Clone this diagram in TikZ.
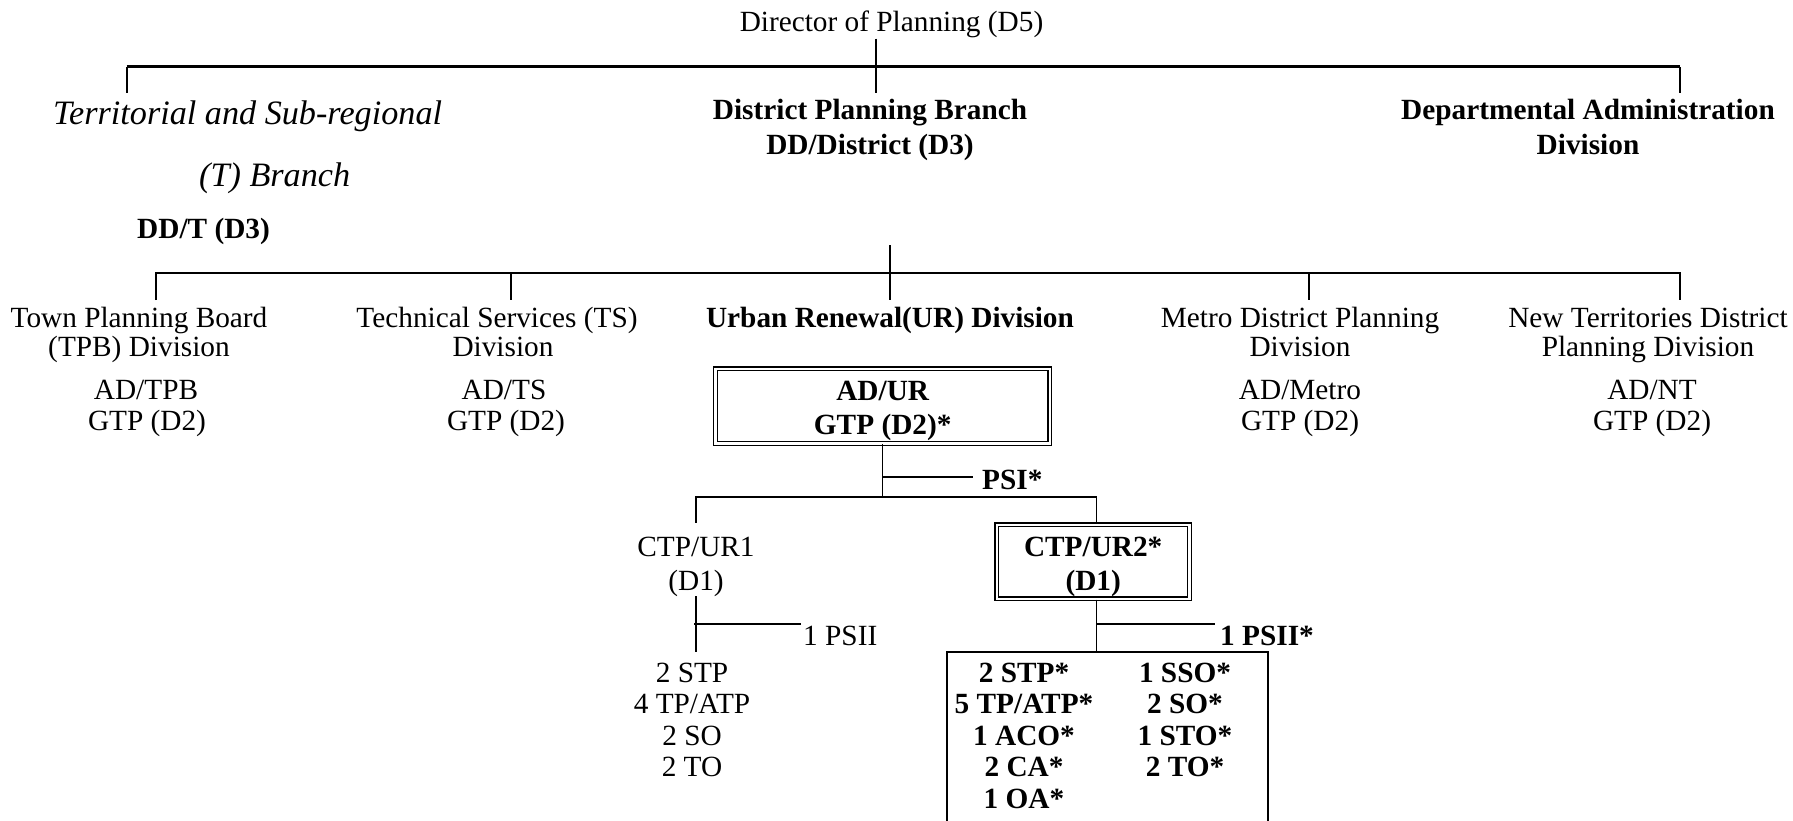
\documentclass[tikz,border=0pt]{standalone}
\usepackage{fontspec}
\setmainfont{Liberation Serif}
\newcommand{\fsN}{\fontsize{29.3}{34}\selectfont}
\newcommand{\fsI}{\fontsize{34.2}{40}\selectfont\itshape}
\tikzset{
  txt/.style={inner sep=0pt, anchor=base, font=\fsN},
  btxt/.style={inner sep=0pt, anchor=base, font=\fsN\bfseries},
  itxt/.style={inner sep=0pt, anchor=base west, font=\fsI},
  conn/.style={line width=1.8pt},
  mainline/.style={line width=2.4pt},
  dbox/.style={draw, double, double distance=2.4pt, line width=1.3pt, inner sep=0pt},
  sbox/.style={draw, line width=1.8pt, inner sep=0pt},
}
\begin{document}
\begin{tikzpicture}[x=1pt,y=-1pt]
\path[fill=white, use as bounding box] (0,0) rectangle (1793,821);

% ---- top level ----
\node[txt] (dir) at (891.5,32) {Director of Planning (D5)};
\coordinate (hT) at (876,66.7);
\coordinate (dL) at (126.7,92.7);
\coordinate (dM) at (876,92.7);
\coordinate (dR) at (1679.7,92.7);
\draw[conn] (dir.south -| hT) -- (dM);
\draw[mainline] (dL |- hT) -- (dR |- hT);
\draw[conn] (dL) -- (dL |- hT);
\draw[conn] (dR) -- (dR |- hT);

\node[itxt] (tsr1) at (53,125) {Territorial and Sub-regional};
\node[itxt] (tsr2) at (199,186) {(T) Branch};
\node[btxt, anchor=base west] (ddt) at (137,238) {DD/T (D3)};

\node[btxt] (dpb1) at (870,120) {District Planning Branch};
\node[btxt] (dpb2) at (870,155) {DD/District (D3)};

\node[btxt] (dad1) at (1588,120) {Departmental Administration};
\node[btxt] (dad2) at (1588,155) {Division};

% ---- second level ----
\coordinate (s0) at (890,245);
\coordinate (sH) at (890,273.3);
\coordinate (a1) at (156,300);
\coordinate (a2) at (511,300);
\coordinate (a3) at (890,300);
\coordinate (a4) at (1309,300);
\coordinate (a5) at (1679.7,300);
\draw[conn] (s0) -- (a3);
\draw[conn] (a1) -- (a1 |- sH) -- (a5 |- sH) -- (a5);
\draw[conn] (a2 |- sH) -- (a2);
\draw[conn] (a4 |- sH) -- (a4);

\node[txt] (tpb1) at (139,327) {Town Planning Board};
\node[txt] (tpb2) at (139,356) {(TPB) Division};
\node[txt] (tpb3) at (146,399) {AD/TPB};
\node[txt] (tpb4) at (147,430) {GTP (D2)};

\node[txt] (ts1) at (497,327) {Technical Services (TS)};
\node[txt] (ts2) at (503,356) {Division};
\node[txt] (ts3) at (504,399) {AD/TS};
\node[txt] (ts4) at (506,430) {GTP (D2)};

\node[btxt] (ur1) at (890,327) {Urban Renewal(UR) Division};

\node[txt] (mt1) at (1300,327) {Metro District Planning};
\node[txt] (mt2) at (1300,356) {Division};
\node[txt] (mt3) at (1300,399) {AD/Metro};
\node[txt] (mt4) at (1300,430) {GTP (D2)};

\node[txt] (nt1) at (1648,327) {New Territories District};
\node[txt] (nt2) at (1648,356) {Planning Division};
\node[txt] (nt3) at (1652,399) {AD/NT};
\node[txt] (nt4) at (1652,430) {GTP (D2)};

% ---- AD/UR ----
\node[dbox, minimum width=334.4pt, minimum height=74.6pt] (adur) at (882.5,406) {};
\node[btxt] (adur1) at (882.7,400) {AD/UR};
\node[btxt] (adur2) at (882.7,434) {GTP (D2)*};

\coordinate (u0) at (882.5,496.7);
\coordinate (psiJ) at (882.5,476.7);
\coordinate (psiE) at (973,476.7);
\node[btxt, anchor=base west] (psi) at (982,489) {PSI*};
\draw[conn] (adur.south) -- (u0);
\draw[conn] (psiJ) -- (psiE);

\node[dbox, minimum width=192.9pt, minimum height=74.2pt] (ctp2) at (1093.2,561.8) {};
\node[btxt] (ctp2a) at (1093.2,556.7) {CTP/UR2*};
\node[btxt] (ctp2b) at (1093.2,590) {(D1)};

\coordinate (c1) at (696,522.7);
\coordinate (c2) at (1096.5,496.7);
\draw[conn] (c1) -- (c1 |- u0) -- (c2) -- (c2 |- ctp2.north);

\node[txt] (ctp1a) at (696,556.7) {CTP/UR1};
\node[txt] (ctp1b) at (696,590) {(D1)};

% ---- lower level ----
\node[sbox, minimum width=321pt, minimum height=200pt] (bot) at (1107.5,751.7) {};

\coordinate (v1b) at (696,651.7);
\coordinate (b1) at (694,624);
\coordinate (b1e) at (801,624);
\draw[conn] (ctp1b.south) -- (v1b);
\draw[conn] (b1) -- (b1e);
\node[txt, anchor=base west] (psii1) at (803,645) {1 PSII};

\coordinate (v2) at (1096.5,624);
\coordinate (b2e) at (1215,624);
\draw[conn] (v2 |- ctp2.south) -- (v2 |- bot.north);
\draw[conn] (v2) -- (b2e);
\node[btxt, anchor=base west] (psii2) at (1220,645) {1 PSII*};

\node[txt] (l1) at (692,682) {2 STP};
\node[txt] (l2) at (692,713.5) {4 TP/ATP};
\node[txt] (l3) at (692,745) {2 SO};
\node[txt] (l4) at (692,776.5) {2 TO};

\node[btxt] (r1) at (1024,682) {2 STP*};
\node[btxt] (r2) at (1024,713.5) {5 TP/ATP*};
\node[btxt] (r3) at (1024,745) {1 ACO*};
\node[btxt] (r4) at (1024,776.5) {2 CA*};
\node[btxt] (r5) at (1024,808) {1 OA*};

\node[btxt] (q1) at (1185,682) {1 SSO*};
\node[btxt] (q2) at (1185,713.5) {2 SO*};
\node[btxt] (q3) at (1185,745) {1 STO*};
\node[btxt] (q4) at (1185,776.5) {2 TO*};
\end{tikzpicture}
\end{document}
